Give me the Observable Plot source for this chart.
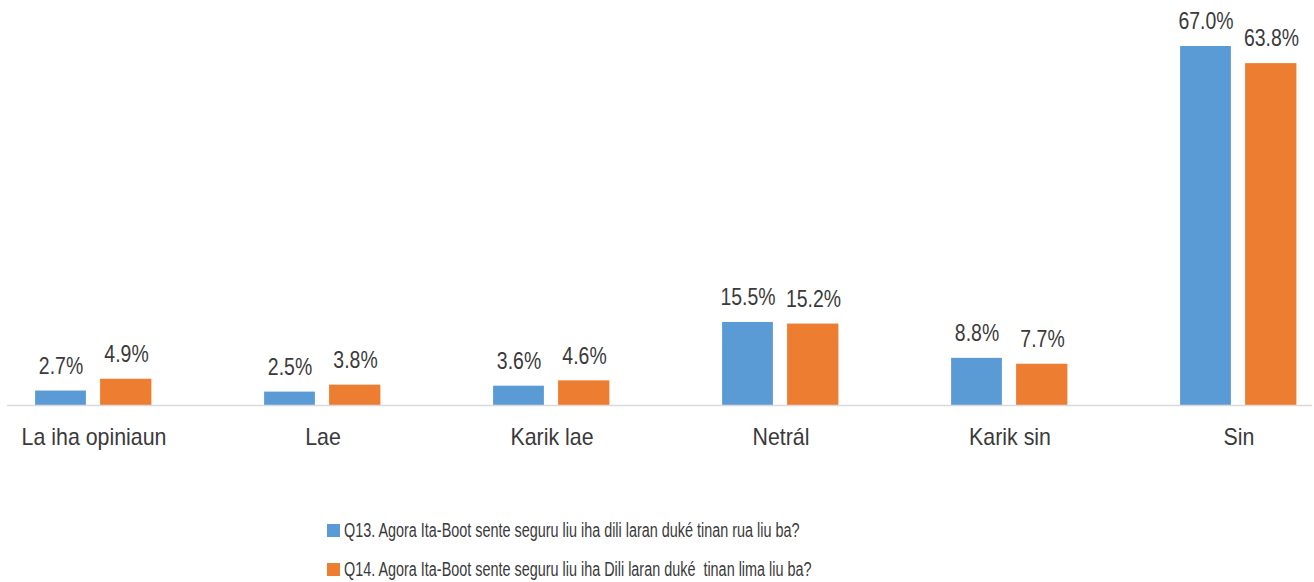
<!DOCTYPE html>
<html>
<head>
<meta charset="utf-8">
<script src="https://cdn.jsdelivr.net/npm/d3@7"></script>
<script src="https://cdn.jsdelivr.net/npm/@observablehq/plot@0.6"></script>
<style>
  html, body { margin: 0; padding: 0; background: #fff; }
  #wrap { position: relative; width: 1314px; height: 582px; font-family: "Liberation Sans", Arial, sans-serif; color: #3a3a3a; }
  .leg { position: absolute; left: 327px; font-size: 20px; line-height: 24px; white-space: pre; display: flex; align-items: center; }
  .sw { display: inline-block; width: 13px; height: 13px; margin-right: 4px; flex: none; }
  .lt { display: inline-block; transform-origin: left center; }
</style>
</head>
<body>
<div id="wrap"></div>
<script>
const categories = ["La iha opiniaun", "Lae", "Karik lae", "Netrál", "Karik sin", "Sin"];
const seriesNames = [
  "Q13. Agora Ita-Boot sente seguru liu iha dili laran duké tinan rua liu ba?",
  "Q14. Agora Ita-Boot sente seguru liu iha Dili laran duké  tinan lima liu ba?"
];
const q13 = [2.7, 2.5, 3.6, 15.5, 8.8, 67.0];
const q14 = [4.9, 3.8, 4.6, 15.2, 7.7, 63.8];
const colors = ["#5B9BD5", "#ED7D31"];

const rows13 = categories.map((c, i) => ({cat: c, v: q13[i]}));
const rows14 = categories.map((c, i) => ({cat: c, v: q14[i]}));

const font = "'Liberation Sans', Arial, sans-serif";
const textColor = "#3a3a3a";

const chart = Plot.plot({
  width: 1314,
  height: 480,
  marginLeft: 7,
  marginRight: 2,
  marginTop: 46,
  marginBottom: 75,
  style: {fontFamily: font, color: textColor, background: "#fff"},
  x: {type: "band", domain: categories, range: [-21.1, 1354.1], padding: 0, axis: null},
  y: {domain: [0, 67], axis: null},
  marks: [
    Plot.barY(rows13, {x: "cat", y: "v", fill: colors[0], insetLeft: 56.1, insetRight: 122.1}),
    Plot.barY(rows14, {x: "cat", y: "v", fill: colors[1], insetLeft: 121.1, insetRight: 56.6}),
    Plot.ruleY([0], {stroke: "#D9D9D9", strokeWidth: 1.5}),
    Plot.text(rows13, {x: "cat", y: "v", text: d => d.v.toFixed(1) + "%", dx: -33, dy: -25, fontSize: 24, fill: textColor, lineAnchor: "middle", className: "vlab"}),
    Plot.text(rows14, {x: "cat", y: "v", text: d => d.v.toFixed(1) + "%", dx: 32.5, dy: -25, fontSize: 24, fill: textColor, lineAnchor: "middle", className: "vlab"}),
    Plot.text(categories, {x: d => d, frameAnchor: "bottom", dy: 32, fontSize: 24, fill: textColor, lineAnchor: "middle", className: "clab"})
  ]
});

const wrap = document.getElementById("wrap");
wrap.appendChild(chart);

// condense glyphs to mimic the narrow typeface of the original
function condense(sel, k) {
  d3.select(chart).selectAll(sel).each(function() {
    const w = this.getComputedTextLength();
    this.setAttribute("textLength", (w * k).toFixed(2));
    this.setAttribute("lengthAdjust", "spacingAndGlyphs");
  });
}
condense(".vlab text", 0.81);
condense(".clab text", 0.89);

const tops = [518, 557];
seriesNames.forEach((name, i) => {
  const d = document.createElement("div");
  d.className = "leg";
  d.style.top = tops[i] + "px";
  const sw = document.createElement("span");
  sw.className = "sw";
  sw.style.background = colors[i];
  const t = document.createElement("span");
  t.className = "lt";
  t.textContent = name;
  t.style.transform = "scaleX(0.72)";
  d.appendChild(sw);
  d.appendChild(t);
  wrap.appendChild(d);
});
</script>
</body>
</html>
